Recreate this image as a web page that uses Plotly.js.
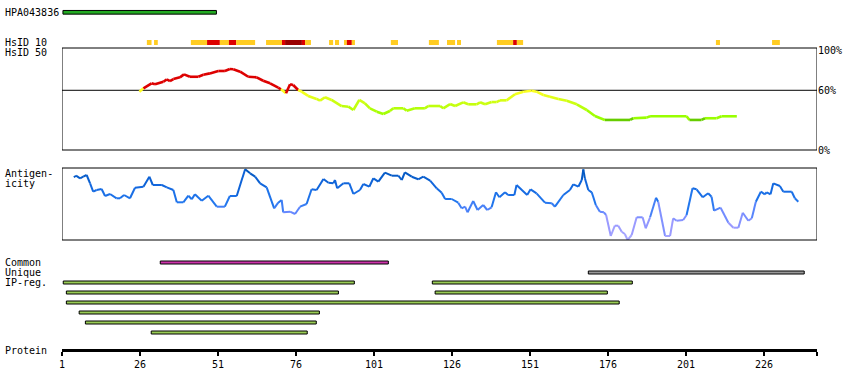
<!DOCTYPE html>
<html><head><meta charset="utf-8">
<script src="https://cdn.plot.ly/plotly-3.0.1.min.js"></script>
<style>html,body{margin:0;padding:0;background:#fff}#chart{width:850px;height:390px}</style>
</head><body><div id="chart"></div>
<script>
// ---------- data ----------
const tickVals = [1, 26, 51, 76, 101, 126, 151, 176, 201, 226, 243];
const tickText = ['1', '26', '51', '76', '101', '126', '151', '176', '201', '226', ''];
const proteinStart = 1;
const proteinEnd = 243;

const hpaName = 'HPA043836';
const hpaStart = [1.3];
const hpaEnd = [50.5];

// HsID 10 strip: 1 = yellow, 2 = red, 3 = dark red
const hs10Start = [28.2, 30.5, 42.3, 47.5, 51.6, 54.5, 56.8, 66.4, 71.5, 72.5, 77.9, 78.9, 86.6, 88.5, 91.4, 92.3, 93.9, 106.4, 118.6, 124.4, 127.6, 140.4, 145.6, 146.8, 210.6, 228.6];
const hs10End   = [29.7, 31.7, 47.5, 51.6, 54.5, 56.8, 62.9, 71.5, 72.5, 77.9, 78.9, 80.8, 87.9, 89.8, 92.3, 93.9, 94.9, 108.7, 121.8, 127.0, 128.9, 145.6, 146.8, 148.8, 211.9, 231.1];
const hs10Level = [1, 1, 1, 2, 1, 2, 1, 1, 2, 3, 2, 1, 1, 1, 1, 2, 1, 1, 1, 1, 1, 1, 2, 1, 1, 1];

// HsID 50 (%)
const hs50Res = [25.8,27.1,29.7,30.8,33.5,34.6,35.6,36.7,38.8,40.1,42.0,44.7,46.3,48.4,51.1,53.2,54.8,55.9,58.1,60.7,63.4,65.5,67.7,70.3,71.2,72.8,74.1,75.1,76.7,77.8,79.9,82.6,83.7,85.3,87.4,90.6,92.8,94.4,96.3,98.1,99.7,101.9,104.0,106.1,107.2,110.4,111.5,114.1,117.3,118.4,122.2,123.2,125.4,127.0,129.6,131.2,133.9,135.0,136.6,138.7,140.3,141.4,143.5,146.2,148.9,151.5,153.1,155.3,157.4,160.1,162.8,166.0,169.2,171.8,175.0,183.1,184.1,188.4,189.5,201.2,202.1,206.0,207.1,210.8,212.4,217.3];
const hs50Val = [58.6,62.0,67.0,66.0,68.6,71.0,69.3,71.3,73.0,76.0,73.6,73.6,75.6,77.0,79.4,79.4,81.4,81.1,78.7,73.6,73.0,69.6,67.0,62.6,61.0,57.0,66.0,65.3,60.3,58.6,54.3,51.3,49.6,53.0,50.3,44.2,43.5,40.2,50.3,46.9,41.9,38.5,36.2,39.2,41.9,41.9,39.5,41.9,41.9,44.2,44.2,41.9,46.2,44.2,47.9,45.9,45.9,47.9,45.9,48.2,48.2,49.9,49.9,56.0,58.6,59.6,58.6,55.3,53.6,51.3,49.5,45.9,40.2,34.2,30.2,30.2,31.9,32.5,33.9,33.9,30.2,30.2,31.9,31.9,33.9,33.9];
const hs50TickVals = [0, 60, 100];
const hs50TickText = ['0%', '60%', '100%'];
const hs50Threshold = 60;

// Antigenicity (relative units)
const agRes = [4.8,5.5,6.8,7.8,8.9,10.0,11.0,12.1,13.7,14.8,16.4,18.5,19.6,20.9,22.8,24.4,27.1,29.0,30.1,33.0,34.6,36.7,37.8,39.9,41.5,42.6,43.6,45.8,47.9,50.6,53.2,54.8,57.0,59.7,61.3,62.9,64.5,66.6,69.0,70.3,71.4,71.9,74.1,75.7,77.3,79.4,81.0,82.6,84.8,86.4,88.0,88.5,89.2,91.2,93.1,94.4,96.5,97.6,99.5,100.8,102.4,104.5,106.7,108.8,109.9,110.9,113.1,115.2,116.8,119.0,121.1,122.7,123.8,125.9,128.0,129.1,130.2,131.0,132.8,134.2,136.0,137.3,138.7,140.1,141.2,143.0,144.0,146.0,146.7,150.1,151.2,153.1,155.8,158.0,159.0,161.7,163.8,164.9,166.5,167.6,168.1,168.6,169.7,170.8,172.1,173.4,174.7,175.4,176.9,178.2,179.3,180.4,181.4,182.3,183.6,185.2,187.1,188.1,189.5,191.4,192.1,194.3,195.9,196.9,198.0,200.1,201.2,203.1,204.4,206.4,208.1,209.2,210.0,212.1,214.6,216.2,217.8,219.2,221.0,222.1,223.4,225.0,226.3,226.9,228.1,229.0,231.1,232.2,234.9,235.9,237.0];
const agVal = [62.7,64.3,61.7,63.3,65,56.7,48.3,50,51,44,46,41.7,41.7,45,41.7,52.3,53.3,63.3,55,55,52.7,50,37.7,37.7,44.3,40.7,45.7,39.3,44.3,33.3,33.3,44,44,70.7,66.7,63.3,56.7,52.7,31.7,37.3,40,27.7,28.3,26,33.3,36,50.7,50,61,57.3,56.7,60,51.7,56.7,56.7,46,50,56,53.3,61.7,58.3,67.3,64.3,64.3,60,67.7,63.3,60.7,63.3,59.3,51.7,47.3,41,41,37.3,31.7,33.3,27.7,39,30,35,30,32.7,47.7,42.7,47.7,45,45,55,45,50.7,46.7,37.3,36.7,33.3,45,50,55.7,53.3,60,70.7,61.7,50,47.7,35,28.3,27.7,25,4,14.3,14.3,8.3,6,0,5,22.7,22.7,11.7,22.7,42.3,38.3,4,4,21.7,19.3,20,25,51.7,50.7,42.7,46.7,43.3,29.3,32.3,17.3,12.3,12.3,27.3,19.3,21.7,38.3,48.3,45.7,47.7,45.7,56.7,54,48.3,48.3,41.7,38.3];

const commonStart = [32.5];
const commonEnd = [105.6];
const uniqueStart = [169.7];
const uniqueEnd = [238.9];
const ipStart = [1.4, 119.7, 2.4, 120.6, 2.4, 6.5, 8.5, 29.6];
const ipEnd   = [94.7, 183.8, 89.6, 175.8, 179.6, 83.5, 82.5, 79.6];
const ipRow   = [0, 0, 1, 1, 2, 3, 4, 5];

const rowLabels = ['Common', 'Unique', 'IP-reg.'];

// ---------- styling / helpers ----------
const W = 850, H = 390;
const FONT = {family: 'DejaVu Sans Mono, monospace', size: 10, color: '#000'};
const py = p => 1 - p / H;

function hexToRgb(h) { h = h.replace('#', ''); return [0, 2, 4].map(i => parseInt(h.substr(i, 2), 16)); }
function interp(stops, v) {
  if (v <= stops[0][0]) return stops[0][1];
  if (v >= stops[stops.length - 1][0]) return stops[stops.length - 1][1];
  for (let i = 0; i < stops.length - 1; i++) {
    const [a, ca] = stops[i], [b, cb] = stops[i + 1];
    if (v >= a && v <= b) {
      const t = (v - a) / (b - a), A = hexToRgb(ca), B = hexToRgb(cb);
      const c = A.map((x, k) => Math.round(x + (B[k] - x) * t));
      return 'rgb(' + c.join(',') + ')';
    }
  }
}
const hs50Stops = [[30, '#66CC00'], [31.0, '#66CC00'], [31.6, '#99FF00'], [35, '#99FF00'], [60, '#FFFF22'], [61.3, '#FFFF22'], [61.5, '#DD0000'], [100, '#DD0000']];
const agStops = [[0, '#AAAAFF'], [15, '#9999FF'], [28, '#6688FF'], [38, '#2277EE'], [55, '#1166DD'], [70, '#0055BB']];
const hs10Colors = {1: '#FFCC22', 2: '#DD0000', 3: '#990000'};

const traces = [];

// HPA antigen bar
traces.push({type: 'bar', orientation: 'h', yaxis: 'y5', y: hpaStart.map(() => 0), base: hpaStart,
  x: hpaStart.map((s, i) => hpaEnd[i] - s), width: 0.122,
  marker: {color: '#22AA22', line: {color: '#000', width: 1}}, hoverinfo: 'skip'});

// HsID 10 strip
traces.push({type: 'bar', orientation: 'h', yaxis: 'y5', y: hs10Start.map(() => 1), base: hs10Start,
  x: hs10Start.map((s, i) => hs10End[i] - s), width: 0.166,
  marker: {color: hs10Level.map(l => hs10Colors[l]), line: {width: 0}}, hoverinfo: 'skip'});

// HsID 50 line, coloured segment by segment
for (let i = 0; i < hs50Res.length - 1; i++) {
  const v = (hs50Val[i] + hs50Val[i + 1]) / 2;
  traces.push({type: 'scatter', mode: 'lines', yaxis: 'y2', x: [hs50Res[i], hs50Res[i + 1]], y: [hs50Val[i], hs50Val[i + 1]],
    line: {color: interp(hs50Stops, v), width: 2.6}, hoverinfo: 'skip'});
}

// Antigenicity line
for (let i = 0; i < agRes.length - 1; i++) {
  const v = (agVal[i] + agVal[i + 1]) / 2;
  traces.push({type: 'scatter', mode: 'lines', yaxis: 'y3', x: [agRes[i], agRes[i + 1]], y: [agVal[i], agVal[i + 1]],
    line: {color: interp(agStops, v), width: 2}, hoverinfo: 'skip'});
}

// Common / Unique / IP-reg bars
function hbar(starts, ends, rows, color) {
  return {type: 'bar', orientation: 'h', yaxis: 'y4', y: rows, base: starts, x: starts.map((s, i) => ends[i] - s),
    width: 0.3, marker: {color: color, line: {color: '#000', width: 1}}, hoverinfo: 'skip'};
}
traces.push(hbar(commonStart, commonEnd, commonStart.map(() => 0), '#CC33AA'));
traces.push(hbar(uniqueStart, uniqueEnd, uniqueStart.map(() => 1), '#999999'));
traces.push(hbar(ipStart, ipEnd, ipRow.map(r => r + 2), '#99CC55'));

// ---------- layout ----------
const hidden = {visible: false, showgrid: false, zeroline: false, fixedrange: true};
const layout = {
  width: W, height: H, margin: {l: 0, r: 0, t: 0, b: 0},
  paper_bgcolor: '#fff', plot_bgcolor: 'rgba(0,0,0,0)',
  showlegend: false, barmode: 'overlay', font: FONT,
  xaxis: {domain: [62 / W, 817 / W], range: [proteinStart, proteinEnd], anchor: 'free', position: py(349.5),
    showline: true, linewidth: 3, linecolor: '#000', ticks: 'outside', ticklen: 4, tickwidth: 2, tickcolor: '#000',
    tickmode: 'array', tickvals: tickVals, ticktext: tickText, tickfont: FONT, showgrid: false, zeroline: false, fixedrange: true},
  yaxis2: {domain: [py(150), py(48)], range: [0, 102.5], anchor: 'x', side: 'right', showgrid: false, zeroline: false,
    showline: false, ticks: '', tickmode: 'array', tickvals: hs50TickVals, ticktext: hs50TickText, tickfont: FONT, fixedrange: true},
  yaxis3: Object.assign({domain: [py(240), py(168)], range: [0, 72], anchor: 'x'}, hidden),
  yaxis4: Object.assign({domain: [py(337.5), py(257.5)], range: [7.5, -0.5], anchor: 'x'}, hidden),
  yaxis5: Object.assign({domain: [py(48), py(3)], range: [1.182, -0.308], anchor: 'x'}, hidden),
  yaxis: Object.assign({domain: [0, 0.01], anchor: 'x'}, hidden),
  shapes: [
    {type: 'rect', xref: 'x', yref: 'y2 domain', x0: proteinStart, x1: proteinEnd, y0: 0, y1: 1, line: {color: '#000', width: 1}},
    {type: 'line', xref: 'x', yref: 'y2', x0: proteinStart, x1: proteinEnd, y0: hs50Threshold, y1: hs50Threshold, line: {color: '#000', width: 1}, layer: 'below'},
    {type: 'rect', xref: 'x', yref: 'y3 domain', x0: proteinStart, x1: proteinEnd, y0: 0, y1: 1, line: {color: '#000', width: 1}}
  ],
  annotations: [
    [hpaName, 12.3], ['HsID 10', 42.5], ['HsID 50', 52.7], ['Antigen-', 173], ['icity', 183.3],
    [rowLabels[0], 262.5], [rowLabels[1], 272.5], [rowLabels[2], 282.5], ['Protein', 350]
  ].map(([t, y]) => ({text: t, xref: 'paper', yref: 'paper', x: 3 / W, y: py(y), xanchor: 'left', yanchor: 'middle',
    showarrow: false, font: FONT}))
};

Plotly.newPlot('chart', traces, layout, {staticPlot: true, displayModeBar: false});
</script>
</body></html>
